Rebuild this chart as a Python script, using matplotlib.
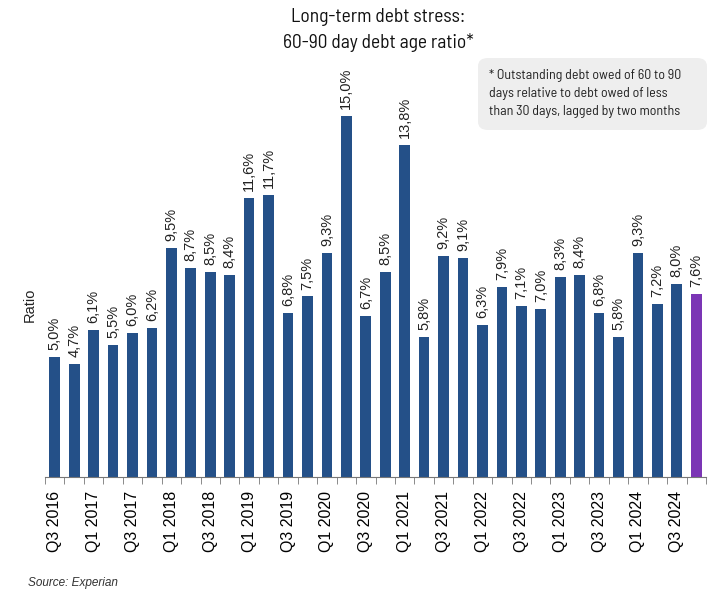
import matplotlib
matplotlib.use("Agg")
import matplotlib.pyplot as plt
from matplotlib.patches import FancyBboxPatch
import numpy as np

quarters = []
for y in range(2016, 2025):
    for q in range(1, 5):
        if y == 2016 and q < 3:
            continue
        quarters.append(f"Q{q} {y}")
values = [5.0, 4.7, 6.1, 5.5, 6.0, 6.2, 9.5, 8.7, 8.5, 8.4, 11.6, 11.7, 6.8, 7.5,
          9.3, 15.0, 6.7, 8.5, 13.8, 5.8, 9.2, 9.1, 6.3, 7.9, 7.1, 7.0, 8.3, 8.4,
          6.8, 5.8, 9.3, 7.2, 8.0, 7.6]
title = "Long-term debt stress:\n60-90 day debt age ratio*"
note = "* Outstanding debt owed of 60 to 90\ndays relative to debt owed of less\nthan 30 days, lagged by two months"
source = "Source: Experian"

blue = "#245088"
purple = "#7B35B5"
arial = ["Liberation Sans", "DejaVu Sans"]
narrow = ["Barlow Semi Condensed", "Archivo Narrow", "DejaVu Sans"]

fig = plt.figure(figsize=(7.15, 5.91), dpi=100)
ax = fig.add_axes([45/715, 1-477/591, 661/715, (477-60)/591])

x = np.arange(len(values))
colors = [blue]*(len(values)-1) + [purple]
ax.bar(x, values, width=0.55, color=colors)
ax.set_xlim(-0.5, len(values)-0.5)
ax.set_ylim(0, (477-60)/24.07)

for xi, v in zip(x, values):
    ax.annotate(f"{v:.1f}%".replace(".", ","), (xi, v), xytext=(0, 5),
                textcoords="offset points", rotation=90, ha="center", va="bottom",
                fontsize=10.5, family=arial, color="#222222")

ax.set_xticks(x[::2])
ax.set_xticklabels(quarters[::2], rotation=90, fontsize=11.5, family=arial)
ax.tick_params(axis="x", which="major", length=0, pad=10)
ax.set_xticks(np.arange(-0.5, len(values)), minor=True)
ax.tick_params(axis="x", which="minor", length=5, color="#777777")
ax.set_yticks([])
for s in ["top", "right", "left"]:
    ax.spines[s].set_visible(False)
ax.spines["bottom"].set_color("#777777")

fig.text(30/715, 1-305/591, "Ratio", rotation=90, ha="center", va="center",
         fontsize=10.5, family=arial, color="#222222")
fig.text(378/715, 1-30/591, title, ha="center", va="center", fontsize=14,
         color="#111111", linespacing=1.45, family=narrow)

box = FancyBboxPatch((478/715, 1-130/591), 229/715, 72/591,
                     boxstyle="round,pad=0,rounding_size=0.014",
                     transform=fig.transFigure, facecolor="#EEEEEE",
                     edgecolor="none")
fig.patches.append(box)
fig.text(489/715, 1-94/591, note, ha="left", va="center", fontsize=10,
         color="#222222", linespacing=1.5, family=narrow)
fig.text(28/715, 1-583/591, source, ha="left", va="center", fontsize=8.5,
         family=arial, style="italic", color="#333333")

fig.savefig("out.png", dpi=100)
